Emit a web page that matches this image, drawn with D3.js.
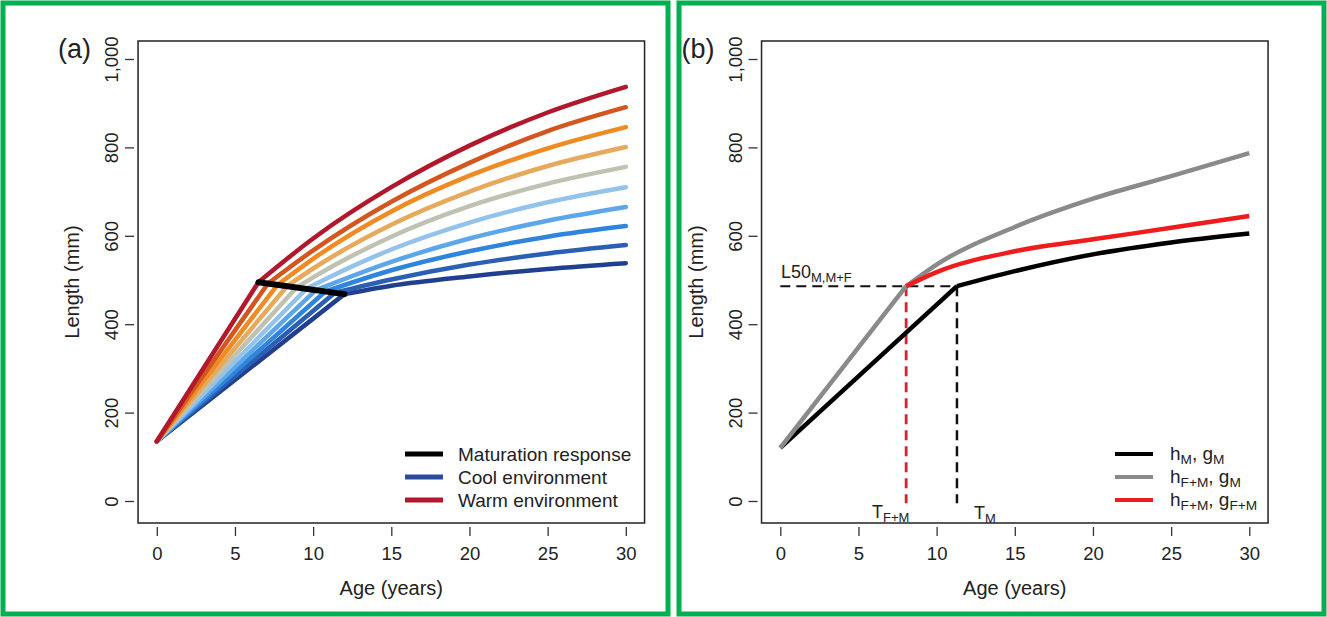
<!DOCTYPE html>
<html>
<head>
<meta charset="utf-8">
<script src="https://cdn.jsdelivr.net/npm/d3@7"></script>
<style>
  body { margin: 0; background: #fff; }
  text { font-family: "Liberation Sans", Arial, sans-serif; fill: #222; }
</style>
</head>
<body>
<svg id="chart" width="1327" height="617"></svg>
<script>
// ---- data ----
const xTicks = [0, 5, 10, 15, 20, 25, 30];
const yTicks = [0, 200, 400, 600, 800, 1000];
const yTickLabels = ["0", "200", "400", "600", "800", "1,000"];

// panel (a): warm -> cool, [age, length] pairs; point 1 is the maturation point
const colorsA = ["#b2182b", "#d4561f", "#f08a22", "#e7aa5c", "#bec2b1",
                 "#93c3ea", "#5ea6ea", "#2f84dc", "#2a5fb4", "#20408f"];
const curvesA = [
  [[0,135],[6.5,495],[10,594],[15,710],[20,804],[25,879],[30,937]],
  [[0,135],[7.11,492],[10,567],[15,677],[20,765],[25,837],[30,891]],
  [[0,135],[7.72,489],[10,548],[15,655],[20,736],[25,798],[30,846]],
  [[0,135],[8.33,486],[10,526],[15,625],[20,700],[25,758],[30,801]],
  [[0,135],[8.94,483],[10,506],[15,598],[20,667],[25,718],[30,756]],
  [[0,135],[9.56,480],[10,488],[15,569],[20,630],[25,676],[30,710]],
  [[0,135],[10.17,477],[15,541],[20,594],[25,634],[30,665]],
  [[0,135],[10.78,474],[15,522],[20,565],[25,598],[30,622]],
  [[0,135],[11.39,471],[15,501],[20,535],[25,560],[30,579]],
  [[0,135],[12.0,468],[15,487],[20,508],[25,525],[30,538]]
];
const maturationLine = [[6.5,495],[12.0,468]];
const legendA = ["Maturation response", "Cool environment", "Warm environment"];
const legendAColors = ["#000000", "#2b4c9e", "#b2182b"];

// panel (b)
const curveHM = [[0,120],[11.3,486],[15,520],[20,558],[25,585],[30,605]];
const curveHFM = [[0,120],[8.05,486],[10,535],[15,620],[20,684],[25,735],[30,787]];
const curveHFMgFM = [[8.05,486],[10,518],[15,565],[20,592],[25,618],[30,645]];
const L50 = 486, T_FM = 8.05, T_M = 11.3;

const svg = d3.select("#chart");
const green = "#00b050";
const tickFont = "18.5px", titleFont = "20px", legendFont = 19;

// green frames
svg.append("rect").attr("x", 3).attr("y", 3).attr("width", 665).attr("height", 611)
  .attr("fill", "none").attr("stroke", green).attr("stroke-width", 5);
svg.append("rect").attr("x", 679).attr("y", 3).attr("width", 645).attr("height", 611)
  .attr("fill", "none").attr("stroke", green).attr("stroke-width", 5);

function makePanel(left, tag) {
  const x = d3.scaleLinear().domain([0, 30]).range([left + 18.8, left + 487.8]);
  const y = d3.scaleLinear().domain([0, 1000]).range([501, 59]);
  const g = svg.append("g");
  const x0 = x(-1.2), x1 = x(31.2), y0 = 41, y1 = 523;

  // x axis
  const xa = g.append("g").attr("transform", `translate(0,${y1 + 4})`)
    .call(d3.axisBottom(x).tickValues(xTicks).tickSize(9).tickPadding(11));
  xa.select(".domain").remove();
  xa.selectAll("line").attr("stroke", "#333").attr("stroke-width", 1.3);
  xa.selectAll("text").style("font-size", tickFont).attr("fill", "#222")
    .style("font-family", "Liberation Sans, Arial, sans-serif");

  // y axis with rotated labels
  const ya = g.append("g").attr("transform", `translate(${x0 - 4},0)`)
    .call(d3.axisLeft(y).tickValues(yTicks).tickSize(9)
      .tickFormat((d, i) => yTickLabels[i]));
  ya.select(".domain").remove();
  ya.selectAll("line").attr("stroke", "#333").attr("stroke-width", 1.3);
  ya.selectAll("text").style("font-size", tickFont).attr("fill", "#222")
    .style("font-family", "Liberation Sans, Arial, sans-serif")
    .attr("x", 0).attr("dy", 0).attr("text-anchor", "middle")
    .attr("transform", "translate(-16,0) rotate(-90)");

  // box
  g.append("rect").attr("x", x0).attr("y", y0).attr("width", x1 - x0).attr("height", y1 - y0)
    .attr("fill", "none").attr("stroke", "#222").attr("stroke-width", 1.5);

  g.append("text").attr("x", (x0 + x1) / 2).attr("y", 595).attr("text-anchor", "middle")
    .style("font-size", titleFont).text("Age (years)");
  g.append("text").attr("transform", `translate(${x0 - 59},${(y0 + y1) / 2}) rotate(-90)`)
    .attr("text-anchor", "middle").style("font-size", titleFont).text("Length (mm)");
  g.append("text").attr("x", x0 - 80).attr("y", 58).style("font-size", "27px").text(tag);
  return {g, x, y};
}

// ---- panel (a) ----
const A = makePanel(138, "(a)");
const lineA = d3.line().x(d => A.x(d[0])).y(d => A.y(d[1]));
const curveLineA = d3.line().x(d => A.x(d[0])).y(d => A.y(d[1])).curve(d3.curveMonotoneX);
curvesA.slice().reverse().forEach((pts, i) => {
  const c = colorsA[curvesA.length - 1 - i];
  A.g.append("path").attr("d", lineA(pts.slice(0, 2)))
    .attr("fill", "none").attr("stroke", c).attr("stroke-width", 4.5).attr("stroke-linecap", "round");
  A.g.append("path").attr("d", curveLineA(pts.slice(1)))
    .attr("fill", "none").attr("stroke", c).attr("stroke-width", 4.5).attr("stroke-linecap", "round");
});
A.g.append("path").attr("d", lineA(maturationLine))
  .attr("fill", "none").attr("stroke", "#000").attr("stroke-width", 6).attr("stroke-linecap", "round");

legendA.forEach((t, i) => {
  const ly = 454 + i * 23;
  A.g.append("line").attr("x1", 405).attr("x2", 443).attr("y1", ly).attr("y2", ly)
    .attr("stroke", legendAColors[i]).attr("stroke-width", 5);
  A.g.append("text").attr("x", 458).attr("y", ly + 7).style("font-size", legendFont + "px").text(t);
});

// ---- panel (b) ----
const B = makePanel(761.5, "(b)");
const lineB = d3.line().x(d => B.x(d[0])).y(d => B.y(d[1]));
const curveLineB = d3.line().x(d => B.x(d[0])).y(d => B.y(d[1])).curve(d3.curveMonotoneX);
function drawKinked(pts, color) {
  B.g.append("path").attr("d", lineB(pts.slice(0, 2)))
    .attr("fill", "none").attr("stroke", color).attr("stroke-width", 4.5);
  B.g.append("path").attr("d", curveLineB(pts.slice(1)))
    .attr("fill", "none").attr("stroke", color).attr("stroke-width", 4.5);
}
// dashed guides
B.g.append("line").attr("x1", B.x(0)).attr("x2", B.x(T_M)).attr("y1", B.y(L50)).attr("y2", B.y(L50))
  .attr("stroke", "#111").attr("stroke-width", 2).attr("stroke-dasharray", "10,6");
B.g.append("line").attr("x1", B.x(T_FM)).attr("x2", B.x(T_FM)).attr("y1", B.y(L50)).attr("y2", B.y(-5))
  .attr("stroke", "#d8232f").attr("stroke-width", 2.8).attr("stroke-dasharray", "10,6");
B.g.append("line").attr("x1", B.x(T_M)).attr("x2", B.x(T_M)).attr("y1", B.y(L50)).attr("y2", B.y(-5))
  .attr("stroke", "#111").attr("stroke-width", 2.5).attr("stroke-dasharray", "10,6");

drawKinked(curveHM, "#000");
drawKinked(curveHFM, "#8a8a8a");
B.g.append("path").attr("d", curveLineB(curveHFMgFM))
  .attr("fill", "none").attr("stroke", "#ee1c1c").attr("stroke-width", 4.5);

function subText(x, y, parts, size, anchor) {
  const t = B.g.append("text").attr("x", x).attr("y", y).style("font-size", size + "px")
    .attr("text-anchor", anchor || "start");
  let shift = 0;
  parts.forEach(p => {
    const want = p[1] ? 4 : 0;
    t.append("tspan").attr("dy", want - shift).style("font-size", (p[1] ? size * 0.72 : size) + "px").text(p[0]);
    shift = want;
  });
  return t;
}
subText(781, 278, [["L50", false], ["M,M+F", true]], 18);
subText(872, 518, [["T", false], ["F+M", true]], 18);
subText(974, 519, [["T", false], ["M", true]], 18);

const legendB = [
  {c: "#000", parts: [["h", false], ["M", true], [", g", false], ["M", true]]},
  {c: "#8a8a8a", parts: [["h", false], ["F+M", true], [", g", false], ["M", true]]},
  {c: "#ee1c1c", parts: [["h", false], ["F+M", true], [", g", false], ["F+M", true]]}
];
legendB.forEach((e, i) => {
  const ly = 454 + i * 23;
  B.g.append("line").attr("x1", 1115).attr("x2", 1153).attr("y1", ly).attr("y2", ly)
    .attr("stroke", e.c).attr("stroke-width", 4);
  subText(1170, ly + 6, e.parts, legendFont);
});
</script>
</body>
</html>
